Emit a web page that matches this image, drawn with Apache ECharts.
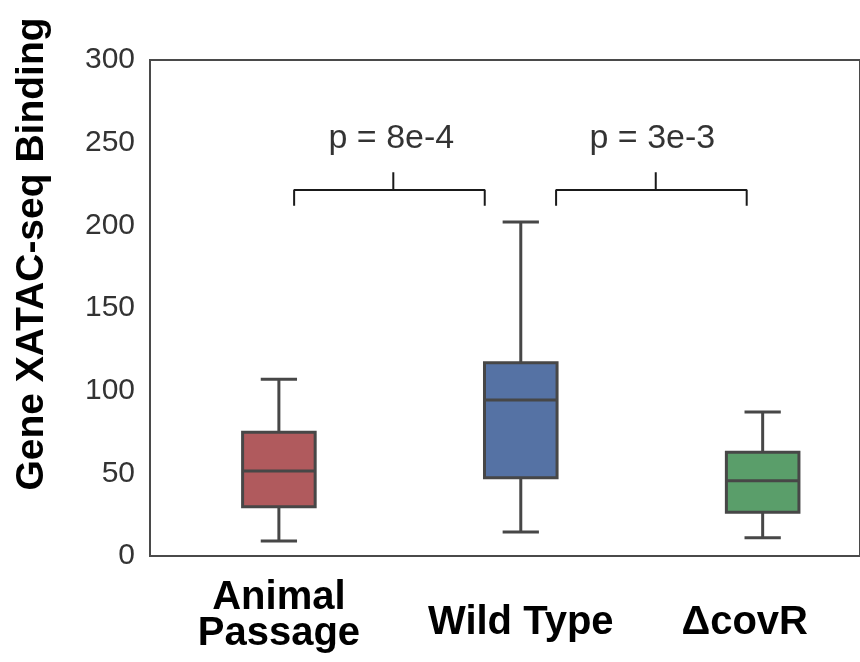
<!DOCTYPE html>
<html>
<head>
<meta charset="utf-8">
<script src="https://cdn.jsdelivr.net/npm/echarts@6/dist/echarts.min.js"></script>
<style>html,body{margin:0;padding:0;background:#fff;}#chart{width:860px;height:662px;}</style>
</head>
<body>
<div id="chart"></div>
<script>
const categories = ['Animal\nPassage', 'Wild Type', 'ΔcovR'];
const categoryPos = [0, 1, 2];
const lowWhisker = [9.1, 14.5, 11.1];
const q1 = [29.8, 47.4, 26.4];
const median = [51.4, 94.3, 45.5];
const q3 = [74.8, 116.9, 62.7];
const highWhisker = [106.9, 202, 87.1];
const boxColors = ['#B05A5D', '#5572A4', '#5A9E6A'];
const yMin = 0, yMax = 300, yInterval = 50;
const xMin = -1, xMax = 2.39, xInterval = 1;
const pLabels = ['p = 8e-4', 'p = 3e-3'];
const bracketStart = [0.063, 1.146];
const bracketEnd = [0.851, 1.934];
const bracketMid = [0.473, 1.558];
const bracketY = 221.4;
const bracketLegY = 211.8;
const bracketTickY = 232.1;
const pLabelX = [0.465, 1.544];
const pLabelY = 252.5;

const FONT = '"Liberation Sans", Arial, Helvetica, sans-serif';
const lineColor = '#474747';

const chart = echarts.init(document.getElementById('chart'));

const boxData = categories.map((c, i) => [categoryPos[i], lowWhisker[i], q1[i], median[i], q3[i], highWhisker[i]]);

const bracketSeries = pLabels.map((p, k) => ({
  type: 'line',
  xAxisIndex: 1, yAxisIndex: 1,
  symbol: 'none', silent: true,
  lineStyle: { color: '#1a1a1a', width: 2 },
  data: [
    [bracketStart[k], bracketLegY],
    [bracketStart[k], bracketY],
    [bracketMid[k], bracketY],
    [bracketMid[k], bracketTickY],
    [bracketMid[k], bracketY],
    [bracketEnd[k], bracketY],
    [bracketEnd[k], bracketLegY]
  ]
}));

const labelFont = { fontSize: 40, fontWeight: 'bold', color: '#000', lineHeight: 35.5, fontFamily: FONT };

const option = {
  animation: false,
  backgroundColor: '#fff',
  grid: [
    { left: 150, right: -10, top: 60, bottom: 106, show: true, borderColor: '#4a4a4a', borderWidth: 2, backgroundColor: 'transparent' },
    { left: 37, right: 0, top: 60, bottom: 106 }
  ],
  xAxis: [
    { gridIndex: 0, type: 'category', data: categories, show: false },
    {
      gridIndex: 1, type: 'value', min: xMin, max: xMax, interval: xInterval,
      axisLine: { show: false }, axisTick: { show: false }, splitLine: { show: false },
      axisLabel: Object.assign({
        margin: 60, verticalAlign: 'middle', showMinLabel: true, showMaxLabel: true,
        formatter: function (v) {
          const i = categoryPos.indexOf(v);
          if (i < 0) return '';
          const t = categories[i];
          if (i === 2) return '{d|' + t + '}';
          if (t.indexOf('\n') >= 0) return t;
          return '{s|' + t + '}';
        },
        rich: {
          s: Object.assign({ padding: [14, 0, 0, 0] }, labelFont),
          d: Object.assign({ padding: [14, 36, 0, 0] }, labelFont)
        }
      }, labelFont)
    }
  ],
  yAxis: [
    {
      gridIndex: 0, type: 'value', min: yMin, max: yMax, interval: yInterval,
      axisLine: { show: false }, axisTick: { show: false }, splitLine: { show: false },
      axisLabel: { fontSize: 30, color: '#333', margin: 15, fontFamily: FONT }
    },
    { gridIndex: 1, type: 'value', min: yMin, max: yMax, show: false }
  ],
  graphic: [{
    type: 'text', x: 32, y: 254, rotation: Math.PI / 2,
    style: {
      text: 'Gene XATAC-seq Binding', fill: '#000',
      font: 'bold 39px ' + FONT,
      align: 'center', verticalAlign: 'middle',
      textAlign: 'center', textVerticalAlign: 'middle'
    }
  }],
  series: [
    {
      type: 'custom',
      xAxisIndex: 1, yAxisIndex: 1,
      encode: { x: 0, y: [1, 2, 3, 4, 5] },
      data: boxData,
      renderItem: function (params, api) {
        const i = api.value(0);
        const band = api.size([1, 0])[0];
        const bw = band * 0.30, cw = bw / 2;
        const c = v => api.coord([i, v]);
        const pLow = c(api.value(1)), pQ1 = c(api.value(2)), pMed = c(api.value(3)), pQ3 = c(api.value(4)), pHigh = c(api.value(5));
        const cx = pMed[0];
        const ls = { stroke: lineColor, lineWidth: 3 };
        return {
          type: 'group',
          children: [
            { type: 'line', shape: { x1: cx, y1: pLow[1], x2: cx, y2: pQ1[1] }, style: ls },
            { type: 'line', shape: { x1: cx, y1: pQ3[1], x2: cx, y2: pHigh[1] }, style: ls },
            { type: 'line', shape: { x1: cx - cw / 2, y1: pLow[1], x2: cx + cw / 2, y2: pLow[1] }, style: ls },
            { type: 'line', shape: { x1: cx - cw / 2, y1: pHigh[1], x2: cx + cw / 2, y2: pHigh[1] }, style: ls },
            { type: 'rect', shape: { x: cx - bw / 2, y: pQ3[1], width: bw, height: pQ1[1] - pQ3[1] }, style: { fill: boxColors[params.dataIndex], stroke: lineColor, lineWidth: 3 } },
            { type: 'line', shape: { x1: cx - bw / 2, y1: pMed[1], x2: cx + bw / 2, y2: pMed[1] }, style: ls }
          ]
        };
      }
    },
    ...bracketSeries,
    {
      type: 'scatter',
      xAxisIndex: 1, yAxisIndex: 1,
      symbolSize: 1, silent: true,
      itemStyle: { color: 'transparent' },
      label: {
        show: true, position: 'inside', formatter: '{b}',
        fontSize: 34, color: '#000', fontFamily: FONT
      },
      data: pLabels.map((p, k) => ({ name: p, value: [pLabelX[k], pLabelY] }))
    }
  ]
};
chart.setOption(option);
</script>
</body>
</html>
